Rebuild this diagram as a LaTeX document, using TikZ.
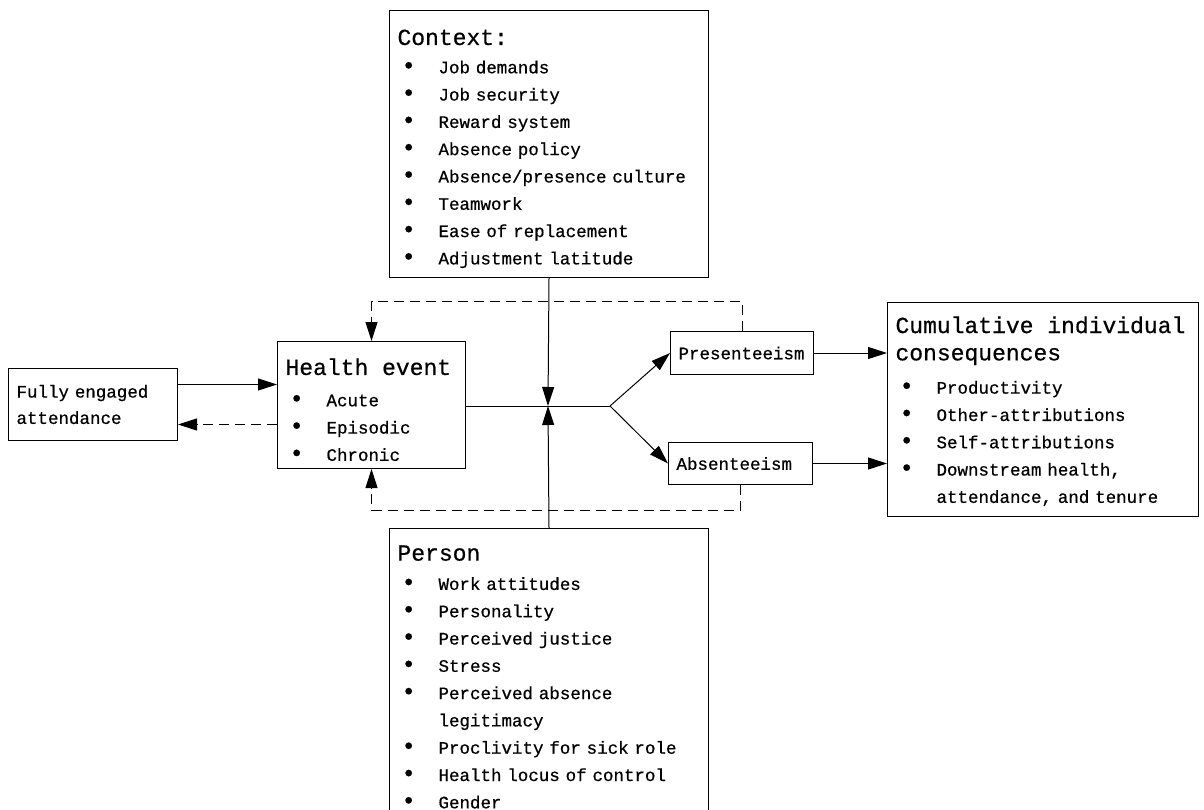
\documentclass[tikz,border=0pt]{standalone}
\usepackage{fontspec}
\setmainfont{Liberation Mono}[FakeBold=0.6]
\usetikzlibrary{arrows.meta,positioning}

\newcommand\monofix{\spaceskip=0.6em\relax\xspaceskip=0.6em\relax}
\newcommand\hd{\fontsize{23}{28}\selectfont\monofix}
\newcommand\topgap[1]{\rule{0pt}{#1pt}}
\newcommand\itm[1]{\hspace*{4pt}\makebox[37pt][l]{\fontsize{24}{27}\selectfont\textbullet}#1}

\tikzset{
  box/.style={draw, line width=1pt, anchor=north west, align=left, inner xsep=8pt,
    font=\fontsize{17.5}{27.3}\selectfont\monofix},
  arr/.style={line width=1pt, -{Triangle[length=19pt,width=12pt]}},
  dasharr/.style={arr, dash pattern=on 10pt off 6pt},
}

\begin{document}
\begin{tikzpicture}[x=1pt, y=-1pt]
  \useasboundingbox (0,0) rectangle (1204,810);

  % Nodes
  \node[box, text width=303pt, minimum height=267pt] (context) at (389,10)
    {\topgap{25}{\hd Context:}\\[1pt]
     \itm{Job demands}\\ \itm{Job security}\\ \itm{Reward system}\\
     \itm{Absence policy}\\ \itm{Absence/presence culture}\\ \itm{Teamwork}\\
     \itm{Ease of replacement}\\ \itm{Adjustment latitude}};

  \node[box, text width=172pt, minimum height=127pt] (health) at (277,341)
    {\topgap{26}{\hd Health event}\\[4pt] \itm{Acute}\\ \itm{Episodic}\\ \itm{Chronic}};

  \node[box, text width=153pt, minimum height=72pt] (fully) at (8,368)
    {Fully engaged\\[-1pt] attendance};

  \node[box, text width=127pt, minimum height=43pt] (pres) at (670,331) {Presenteeism};
  \node[box, text width=128pt, minimum height=42pt] (abs) at (668,442) {Absenteeism};

  \node[box, text width=295pt, minimum height=214pt] (cum) at (887,302)
    {\topgap{20}{\hd Cumulative individual}\\ {\hd consequences}\\[6pt]
     \itm{Productivity}\\ \itm{Other-attributions}\\ \itm{Self-attributions}\\
     \itm{Downstream health,}\\ \hspace*{41pt}attendance, and tenure};

  \node[box, text width=303pt, minimum height=297pt] (person) at (389,528)
    {{\hd Person}\\[2pt]
     \itm{Work attitudes}\\ \itm{Personality}\\ \itm{Perceived justice}\\
     \itm{Stress}\\ \itm{Perceived absence}\\ \hspace*{41pt}legitimacy\\
     \itm{Proclivity for sick role}\\ \itm{Health locus of control}\\
     \itm{Gender}};

  \coordinate (jn) at (548,406);
  \coordinate (split) at (610,406);
  \coordinate (loopT) at (0,301);
  \coordinate (loopB) at (0,510);

  % Edges
  \draw[arr] ([yshift=20pt]fully.east) -- ([yshift=20pt]fully.east -| health.west);
  \draw[dasharr] ([yshift=-20pt]fully.east -| health.west) -- ([yshift=-20pt]fully.east);

  \draw[line width=1pt] (health.east |- jn) -- (split);
  \draw[arr] (context.south) -- (jn);
  \draw[arr] (person.north) -- (jn);
  \draw[arr] (split) -- (pres.west);
  \draw[arr] (split) -- (abs.west);

  \draw[arr] (pres.east) -- (pres.east -| cum.west);
  \draw[arr] (abs.east) -- (abs.east -| cum.west);

  \draw[dasharr] (pres.north) -- (pres.north |- loopT) -- (health.north |- loopT) -- (health.north);
  \draw[dasharr] (abs.south) -- (abs.south |- loopB) -- (health.south |- loopB) -- (health.south);

\end{tikzpicture}
\end{document}
